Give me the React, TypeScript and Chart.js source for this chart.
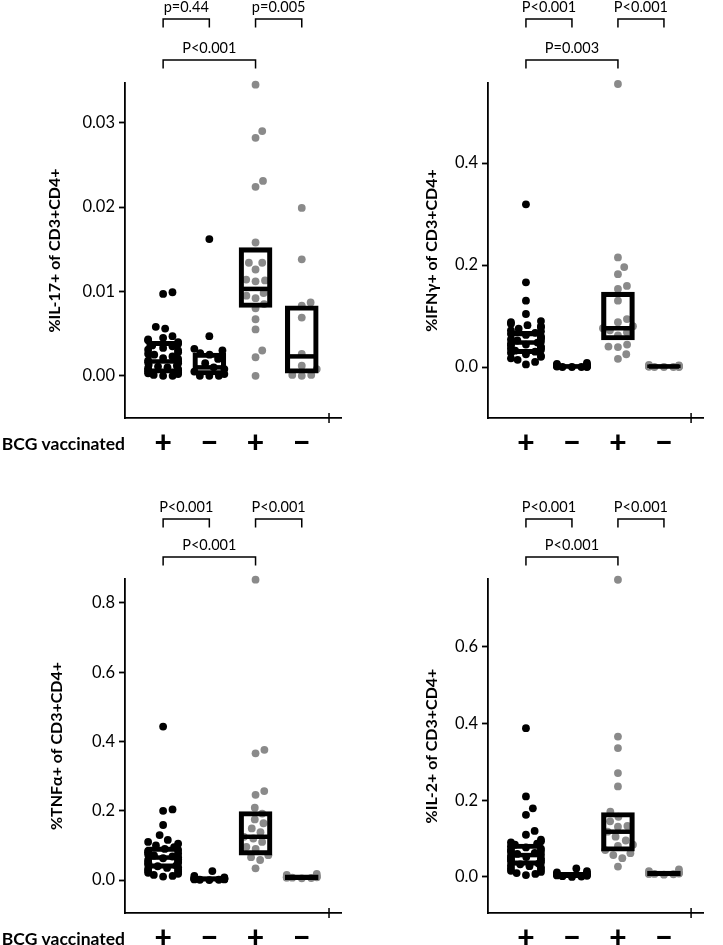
import React, { useEffect, useRef } from 'react';
import { Chart, registerables } from 'chart.js';

Chart.register(...registerables);

const FONT = 'Lato, "Open Sans", sans-serif';

// ---------- shared categories ----------
const BCG_LABELS = ['+', '−', '+', '−'];
const GROUP_X = [1, 2, 3, 4];
const GROUP_COLORS = ['#000000', '#000000', '#8a8a8a', '#8a8a8a'];
const ROW_LABEL = 'BCG vaccinated';

// ---------- Panel: IL-17 ----------
const IL17_TITLE = '%IL-17+ of CD3+CD4+';
const IL17_G1 = [0.0099, 0.0097, 0.0058, 0.0056, 0.0047, 0.0045, 0.0043, 0.0042, 0.0040, 0.0038, 0.0036, 0.0035, 0.0033, 0.0031, 0.0030, 0.0028, 0.0026, 0.0025, 0.0023, 0.0021, 0.0020, 0.0018, 0.0017, 0.0016, 0.0015, 0.0013, 0.0012, 0.0011, 0.0010, 0.0009, 0.0008, 0.0007, 0.0006, 0.0005, 0.0004, 0.0003, 0.0002, 0.0001, 0.0000, 0.0000];
const IL17_G2 = [0.0162, 0.0047, 0.0032, 0.0030, 0.0027, 0.0025, 0.0020, 0.0015, 0.0010, 0.0008, 0.0005, 0.0002, 0.0000, 0.0000, 0.0000];
const IL17_G3 = [0.0345, 0.0290, 0.0282, 0.0231, 0.0224, 0.0158, 0.0134, 0.0134, 0.0126, 0.0114, 0.0113, 0.0112, 0.0098, 0.0095, 0.0092, 0.0085, 0.0080, 0.0067, 0.0055, 0.0030, 0.0022, 0.0000];
const IL17_G4 = [0.0199, 0.0138, 0.0087, 0.0083, 0.0069, 0.0026, 0.0012, 0.0008, 0.0001, 0.0001, 0.0000];
const IL17_Q1 = [0.0003, 0.0001, 0.0081, 0.0003];
const IL17_MED = [0.0017, 0.0010, 0.0103, 0.0023];
const IL17_Q3 = [0.0041, 0.0027, 0.0152, 0.0083];
const IL17_P = ['p=0.44', 'p=0.005', 'P<0.001'];

// ---------- Panel: IFN-gamma ----------
const IFNG_TITLE = '%IFNγ+ of CD3+CD4+';
const IFNG_G1 = [0.319, 0.166, 0.130, 0.104, 0.090, 0.088, 0.085, 0.082, 0.080, 0.078, 0.075, 0.072, 0.070, 0.067, 0.065, 0.063, 0.060, 0.058, 0.056, 0.054, 0.052, 0.050, 0.048, 0.046, 0.044, 0.042, 0.040, 0.038, 0.036, 0.034, 0.032, 0.030, 0.028, 0.025, 0.022, 0.020, 0.017, 0.014, 0.010, 0.005];
const IFNG_G2 = [0.008, 0.006, 0.005, 0.004, 0.003, 0.003, 0.002, 0.002, 0.001, 0.001, 0.000, 0.000, 0.000, 0.000];
const IFNG_G3 = [0.555, 0.215, 0.196, 0.182, 0.159, 0.153, 0.130, 0.094, 0.088, 0.080, 0.076, 0.072, 0.068, 0.062, 0.044, 0.040, 0.039, 0.025, 0.016];
const IFNG_G4 = [0.004, 0.003, 0.002, 0.002, 0.001, 0.001, 0.001, 0.000, 0.000, 0.000, 0.000];
const IFNG_Q1 = [0.026, -0.002, 0.053, -0.002];
const IFNG_MED = [0.048, 0.001, 0.076, 0.001];
const IFNG_Q3 = [0.070, 0.005, 0.147, 0.005];
const IFNG_P = ['P<0.001', 'P<0.001', 'P=0.003'];

// ---------- Panel: TNF-alpha ----------
const TNFA_TITLE = '%TNFα+ of CD3+CD4+';
const TNFA_G1 = [0.443, 0.204, 0.200, 0.159, 0.130, 0.116, 0.110, 0.105, 0.100, 0.095, 0.090, 0.087, 0.084, 0.080, 0.077, 0.074, 0.071, 0.068, 0.066, 0.063, 0.060, 0.058, 0.055, 0.052, 0.050, 0.047, 0.045, 0.042, 0.040, 0.037, 0.035, 0.032, 0.030, 0.027, 0.024, 0.021, 0.018, 0.015, 0.012, 0.010];
const TNFA_G2 = [0.026, 0.012, 0.008, 0.006, 0.005, 0.004, 0.004, 0.003, 0.003, 0.002, 0.002, 0.001, 0.001, 0.000];
const TNFA_G3 = [0.867, 0.376, 0.366, 0.257, 0.246, 0.209, 0.192, 0.175, 0.164, 0.149, 0.138, 0.125, 0.120, 0.110, 0.096, 0.090, 0.072, 0.066, 0.058, 0.034];
const TNFA_G4 = [0.018, 0.015, 0.012, 0.010, 0.009, 0.008, 0.008, 0.007, 0.007, 0.006, 0.005];
const TNFA_Q1 = [0.034, -0.003, 0.072, 0.001];
const TNFA_MED = [0.065, 0.003, 0.125, 0.008];
const TNFA_Q3 = [0.096, 0.010, 0.198, 0.015];
const TNFA_P = ['P<0.001', 'P<0.001', 'P<0.001'];

// ---------- Panel: IL-2 ----------
const IL2_TITLE = '%IL-2+ of CD3+CD4+';
const IL2_G1 = [0.388, 0.210, 0.179, 0.162, 0.120, 0.110, 0.097, 0.093, 0.090, 0.087, 0.084, 0.080, 0.077, 0.074, 0.071, 0.068, 0.066, 0.063, 0.060, 0.058, 0.055, 0.052, 0.050, 0.048, 0.045, 0.043, 0.040, 0.038, 0.035, 0.033, 0.030, 0.028, 0.025, 0.022, 0.019, 0.016, 0.013, 0.010, 0.008, 0.005];
const IL2_G2 = [0.022, 0.015, 0.012, 0.010, 0.008, 0.007, 0.006, 0.005, 0.004, 0.003, 0.002, 0.001, 0.000];
const IL2_G3 = [0.775, 0.366, 0.336, 0.271, 0.236, 0.170, 0.157, 0.145, 0.133, 0.131, 0.118, 0.105, 0.095, 0.084, 0.081, 0.070, 0.062, 0.057, 0.049, 0.027];
const IL2_G4 = [0.020, 0.015, 0.012, 0.010, 0.010, 0.009, 0.009, 0.008, 0.008, 0.007, 0.006];
const IL2_Q1 = [0.030, -0.002, 0.067, 0.003];
const IL2_MED = [0.057, 0.005, 0.118, 0.009];
const IL2_Q3 = [0.086, 0.012, 0.168, 0.015];
const IL2_P = ['P<0.001', 'P<0.001', 'P<0.001'];

// ---------- layout of the four panels ----------
type Panel = {
  title: string; groups: number[][]; q1: number[]; med: number[]; q3: number[]; pvals: string[];
  yMin: number; yMax: number; step: number; decimals: number;
  left: number; top: number; width: number; height: number;
  axisW: number; xAxisH: number; titleX: number; shortY: number; longY: number; rowLabel: boolean;
};

const PANELS: Panel[] = [
  { title: IL17_TITLE, groups: [IL17_G1, IL17_G2, IL17_G3, IL17_G4], q1: IL17_Q1, med: IL17_MED, q3: IL17_Q3, pvals: IL17_P,
    yMin: -0.005, yMax: 0.0347, step: 0.01, decimals: 2,
    left: 0, top: 0, width: 361, height: 496, axisW: 125, xAxisH: 78, titleX: 55, shortY: 19, longY: 60, rowLabel: true },
  { title: IFNG_TITLE, groups: [IFNG_G1, IFNG_G2, IFNG_G3, IFNG_G4], q1: IFNG_Q1, med: IFNG_MED, q3: IFNG_Q3, pvals: IFNG_P,
    yMin: -0.1, yMax: 0.557, step: 0.2, decimals: 1,
    left: 362, top: 0, width: 361, height: 496, axisW: 126, xAxisH: 78, titleX: 70, shortY: 19, longY: 60, rowLabel: false },
  { title: TNFA_TITLE, groups: [TNFA_G1, TNFA_G2, TNFA_G3, TNFA_G4], q1: TNFA_Q1, med: TNFA_MED, q3: TNFA_Q3, pvals: TNFA_P,
    yMin: -0.095, yMax: 0.869, step: 0.2, decimals: 1,
    left: 0, top: 496, width: 361, height: 449, axisW: 125, xAxisH: 32, titleX: 57, shortY: 23, longY: 61, rowLabel: true },
  { title: IL2_TITLE, groups: [IL2_G1, IL2_G2, IL2_G3, IL2_G4], q1: IL2_Q1, med: IL2_MED, q3: IL2_Q3, pvals: IL2_P,
    yMin: -0.094, yMax: 0.777, step: 0.2, decimals: 1,
    left: 362, top: 496, width: 361, height: 449, axisW: 126, xAxisH: 32, titleX: 70, shortY: 23, longY: 61, rowLabel: false },
];

const X_MIN = 0.175;
const X_MAX = 4.86;
const X_END_TICK = 4.59;
const POINT_R = 3.9;
const SWARM_D = 9.5;
const SWARM_GUTTER = 15;

// seaborn-like beeswarm in pixel space
function swarm(ys: number[], d: number, gutter: number): number[] {
  const order = ys.map((_, i) => i).sort((a, b) => ys[b] - ys[a]);
  const placed: { x: number; y: number }[] = [];
  const out = new Array(ys.length).fill(0);
  for (const i of order) {
    const y = ys[i];
    const near = placed.filter((p) => Math.abs(p.y - y) < d);
    const cands = [0];
    for (const p of near) {
      const dx = Math.sqrt(d * d - (p.y - y) * (p.y - y));
      cands.push(p.x + dx, p.x - dx);
    }
    cands.sort((a, b) => Math.abs(a) - Math.abs(b));
    let chosen = cands[cands.length - 1];
    for (const c of cands) {
      if (near.every((p) => (p.x - c) ** 2 + (p.y - y) ** 2 >= d * d - 1e-6)) { chosen = c; break; }
    }
    placed.push({ x: chosen, y });
    out[i] = Math.max(-gutter, Math.min(gutter, chosen));
  }
  return out;
}

function PanelChart({ p }: { p: Panel }) {
  const ref = useRef<HTMLCanvasElement>(null);
  useEffect(() => {
    if (!ref.current) return;
    const datasets: any[] = [];
    p.groups.forEach((vals, gi) => {
      datasets.push({
        type: 'scatter',
        data: vals.map((v) => ({ x: GROUP_X[gi], y: v })),
        backgroundColor: GROUP_COLORS[gi],
        borderWidth: 0,
        pointRadius: POINT_R,
        pointHoverRadius: POINT_R,
        clip: false,
        order: 3,
      });
    });
    datasets.push({
      type: 'bar',
      data: GROUP_X.map((x, i) => ({ x, y: [p.q1[i], p.q3[i]] })),
      backgroundColor: 'rgba(0,0,0,0)',
      borderColor: '#000',
      borderWidth: 4.5,
      borderSkipped: false,
      barThickness: 33,
      clip: false,
      order: 1,
    });
    datasets.push({
      type: 'scatter',
      data: GROUP_X.map((x, i) => ({ x, y: p.med[i] })),
      pointStyle: 'line',
      pointRadius: 15,
      pointHoverRadius: 15,
      borderColor: '#000',
      backgroundColor: '#000',
      borderWidth: 4.5,
      clip: false,
      order: 0,
    });

    const overlay = {
      id: 'overlay',
      afterDraw(chart: any) {
        const { ctx, chartArea, scales } = chart;
        const xs = scales.x;
        ctx.save();
        ctx.fillStyle = '#000';
        ctx.strokeStyle = '#000';
        // group labels under the axis
        ctx.textAlign = 'center';
        ctx.textBaseline = 'middle';
        ctx.font = `900 30px ${FONT}`;
        const labY = chartArea.bottom + 25;
        GROUP_X.forEach((g, i) => ctx.fillText(BCG_LABELS[i], xs.getPixelForValue(g), labY));
        if (p.rowLabel) {
          ctx.textAlign = 'right';
          ctx.font = `bold 17.5px ${FONT}`;
          ctx.fillText(ROW_LABEL, chartArea.left, labY + 1);
        }
        // extra tick at the right end of the x axis
        ctx.lineWidth = 1.5;
        const tx = xs.getPixelForValue(X_END_TICK);
        ctx.beginPath();
        ctx.moveTo(tx, chartArea.bottom - 5);
        ctx.lineTo(tx, chartArea.bottom + 5);
        ctx.stroke();
        // significance brackets
        const pairs = [[0, 1, p.shortY], [2, 3, p.shortY], [0, 2, p.longY]];
        ctx.font = `14.5px ${FONT}`;
        ctx.textAlign = 'center';
        ctx.textBaseline = 'middle';
        pairs.forEach(([a, b, y], k) => {
          const xa = xs.getPixelForValue(GROUP_X[a]);
          const xb = xs.getPixelForValue(GROUP_X[b]);
          ctx.beginPath();
          ctx.moveTo(xa, y + 8.5);
          ctx.lineTo(xa, y);
          ctx.lineTo(xb, y);
          ctx.lineTo(xb, y + 8.5);
          ctx.stroke();
          ctx.fillText(p.pvals[k], (xa + xb) / 2, y - 11.5);
        });
        ctx.restore();
      },
    };

    const chart = new Chart(ref.current, {
      type: 'scatter',
      data: { datasets },
      options: {
        animation: false,
        responsive: false,
        events: [],
        layout: { padding: { top: 83, left: 0, right: 0, bottom: 0 } },
        plugins: { legend: { display: false }, tooltip: { enabled: false } },
        scales: {
          x: {
            type: 'linear', min: X_MIN, max: X_MAX, offset: false,
            afterFit: (s: any) => { s.height = p.xAxisH; },
            border: { display: true, color: '#000', width: 1.8 },
            grid: { display: false },
            ticks: { display: false },
          },
          y: {
            type: 'linear', min: p.yMin, max: p.yMax,
            afterFit: (s: any) => { s.width = p.axisW; },
            border: { display: true, color: '#000', width: 1.8 },
            grid: { display: true, drawOnChartArea: false, drawTicks: true, tickLength: 6, tickColor: '#000', tickWidth: 1.8 },
            ticks: {
              stepSize: p.step, includeBounds: false, color: '#000', padding: 4,
              font: { family: FONT, size: 16.5 },
              callback: (v: any) => Number(v).toFixed(p.decimals),
            },
            title: {
              display: true, text: p.title, color: '#000',
              font: { family: FONT, size: 16, weight: 'bold' },
              padding: { top: p.titleX - 9.6, bottom: 0 },
            },
          },
        },
      },
      plugins: [overlay],
    } as any);

    // place points as a swarm around each category, using the chart's own scales
    const xs: any = chart.scales.x;
    const ys: any = chart.scales.y;
    p.groups.forEach((vals, gi) => {
      const cx = xs.getPixelForValue(GROUP_X[gi]);
      const offs = swarm(vals.map((v) => ys.getPixelForValue(v)), SWARM_D, SWARM_GUTTER);
      chart.data.datasets[gi].data = vals.map((v, k) => ({ x: xs.getValueForPixel(cx + offs[k]), y: v })) as any;
    });
    chart.update();

    return () => chart.destroy();
  }, [p]);
  return (
    <canvas
      ref={ref}
      width={p.width}
      height={p.height}
      style={{ position: 'absolute', left: p.left, top: p.top, width: p.width, height: p.height }}
    />
  );
}

export default function App() {
  return (
    <div style={{ position: 'absolute', left: 0, top: 0, width: 723, height: 945, background: '#fff' }}>
      {PANELS.map((p, i) => <PanelChart key={i} p={p} />)}
    </div>
  );
}
